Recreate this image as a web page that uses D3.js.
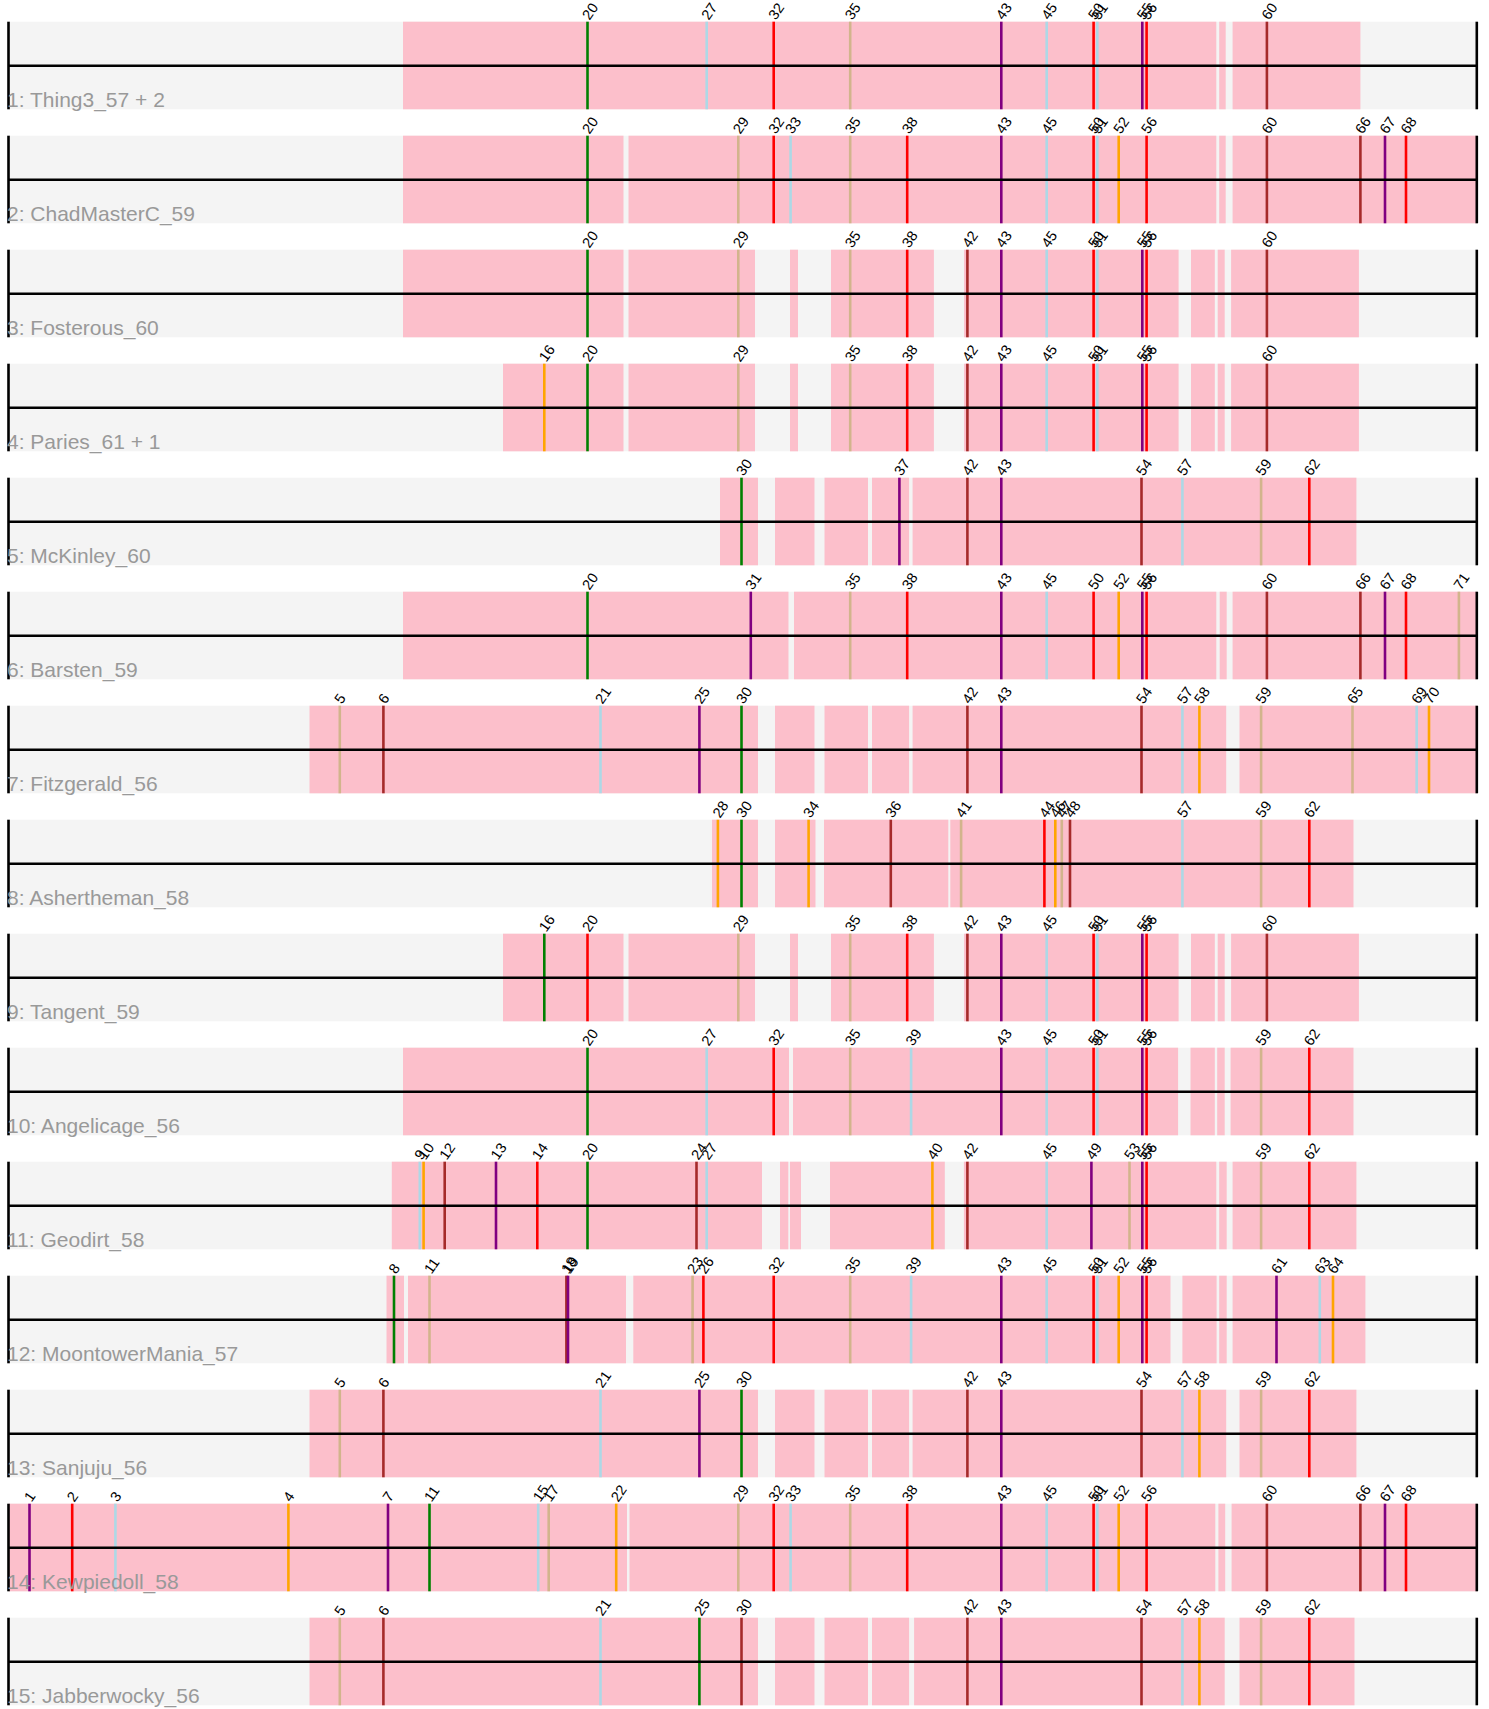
<!DOCTYPE html>
<html lang="en">
<head>
<meta charset="UTF-8">
<title>Variant tracks</title>
<script src="https://cdn.jsdelivr.net/npm/d3@7"></script>
<style>
    body { margin: 0; background: #fff; }
    svg { display: block; }
    .row-label { font-family: "Liberation Sans", Arial, sans-serif; font-size: 21px; fill: #999; }
    .site-label { font-family: "Liberation Sans", Arial, sans-serif; font-size: 14.5px; fill: #000; }
</style>
</head>
<body>
<div id="chart"></div>
<script>
// track names, top to bottom
const rowNames = [
    "1: Thing3_57 + 2", "2: ChadMasterC_59", "3: Fosterous_60", "4: Paries_61 + 1",
    "5: McKinley_60", "6: Barsten_59", "7: Fitzgerald_56", "8: Ashertheman_58",
    "9: Tangent_59", "10: Angelicage_56", "11: Geodirt_58", "12: MoontowerMania_57",
    "13: Sanjuju_56", "14: Kewpiedoll_58", "15: Jabberwocky_56"
];

// alignment position of each numbered site (site 1 .. 71)
const sitePos = [
    21, 63.7, 106.9, 279.9, 331.3, 374.9, 379.5, 385.5, 411.3, 415.1,
    421, 436.2, 487.5, 528.8, 529.7, 535.8, 540.2, 557.9, 559.5, 579,
    592, 607.7, 684.1, 688, 690.9, 694.9, 698.2, 709.4, 729.8, 733,
    742.3, 765.2, 782.1, 800.1, 841.7, 882.3, 890.9, 898.7, 902.6, 923.9,
    952.6, 958.9, 992.8, 1035.9, 1038.2, 1046.8, 1053.3, 1061.5, 1082.9, 1085.1,
    1088.8, 1110.2, 1121, 1133, 1133.8, 1138.1, 1173.9, 1190.9, 1252.6, 1258.4,
    1268, 1300.8, 1311.3, 1324.5, 1344, 1351.9, 1376.5, 1397.5, 1408.2, 1420.5,
    1450.4
];
const alignLength = 1468.3;

// sites present in each track
const rowSites = [
    [20, 27, 32, 35, 43, 45, 50, 51, 55, 56, 60],
    [20, 29, 32, 33, 35, 38, 43, 45, 50, 51, 52, 56, 60, 66, 67, 68],
    [20, 29, 35, 38, 42, 43, 45, 50, 51, 55, 56, 60],
    [16, 20, 29, 35, 38, 42, 43, 45, 50, 51, 55, 56, 60],
    [30, 37, 42, 43, 54, 57, 59, 62],
    [20, 31, 35, 38, 43, 45, 50, 52, 55, 56, 60, 66, 67, 68, 71],
    [5, 6, 21, 25, 30, 42, 43, 54, 57, 58, 59, 65, 69, 70],
    [28, 30, 34, 36, 41, 44, 46, 47, 48, 57, 59, 62],
    [16, 20, 29, 35, 38, 42, 43, 45, 50, 51, 55, 56, 60],
    [20, 27, 32, 35, 39, 43, 45, 50, 51, 55, 56, 59, 62],
    [9, 10, 12, 13, 14, 20, 24, 27, 40, 42, 45, 49, 53, 55, 56, 59, 62],
    [8, 11, 18, 19, 23, 26, 32, 35, 39, 43, 45, 50, 51, 52, 55, 56, 61, 63, 64],
    [5, 6, 21, 25, 30, 42, 43, 54, 57, 58, 59, 62],
    [1, 2, 3, 4, 7, 11, 15, 17, 22, 29, 32, 33, 35, 38, 43, 45, 50, 51, 52, 56, 60, 66, 67, 68],
    [5, 6, 21, 25, 30, 42, 43, 54, 57, 58, 59, 62]
];

// change class of each site mark, same order as rowSites
const rowKinds = [
    ["key", "c", "a", "t", "g", "c", "a", "c", "g", "a", "x"],
    ["key", "t", "a", "c", "t", "a", "g", "c", "a", "c", "o", "a", "x", "x", "g", "a"],
    ["key", "t", "t", "a", "x", "g", "c", "a", "c", "g", "a", "x"],
    ["o", "key", "t", "t", "a", "x", "g", "c", "a", "c", "g", "a", "x"],
    ["key", "g", "x", "g", "x", "c", "t", "a"],
    ["key", "g", "t", "a", "g", "c", "a", "o", "g", "a", "x", "x", "g", "a", "t"],
    ["t", "x", "c", "g", "key", "x", "g", "x", "c", "o", "t", "t", "c", "o"],
    ["o", "key", "o", "x", "t", "a", "o", "t", "x", "c", "t", "a"],
    ["key", "a", "t", "t", "a", "x", "g", "c", "a", "c", "g", "a", "x"],
    ["key", "c", "a", "t", "c", "g", "c", "a", "c", "g", "a", "t", "a"],
    ["c", "o", "x", "g", "a", "key", "x", "c", "o", "x", "c", "g", "t", "g", "a", "t", "a"],
    ["key", "t", "x", "g", "t", "a", "a", "t", "c", "g", "c", "a", "c", "o", "g", "a", "g", "c", "o"],
    ["t", "x", "c", "g", "key", "x", "g", "x", "c", "o", "t", "a"],
    ["g", "a", "c", "o", "g", "key", "c", "t", "o", "t", "a", "c", "t", "a", "g", "c", "a", "c", "o", "a", "x", "x", "g", "a"],
    ["t", "x", "c", "key", "x", "x", "g", "x", "c", "o", "t", "a"]
];

// covered (pink) stretches of each track, [start, end] in alignment positions
const segA = [[620, 746.5], [781.5, 789.5], [822.5, 925.4], [955.6, 1170.1], [1182.5, 1206.3], [1209.2, 1216.2], [1222.6, 1350.4]];
const segB = [[766.5, 806], [816, 859.5], [863.5, 900.6]];
const rowCover = [
    [[394.5, 1207.8], [1210.7, 1217.2], [1224.1, 1351.9]],
    [[394.5, 615], [620, 1207.8], [1210.7, 1217.2], [1224.1, 1468.3]],
    [[394.5, 615]].concat(segA),
    [[494.5, 615]].concat(segA),
    [[711.5, 749.5]].concat(segB, [[904.1, 1347.9]]),
    [[394.5, 780], [785.5, 1207.8], [1211.2, 1218.2], [1224.1, 1468.3]],
    [[301, 749.5]].concat(segB, [[904.1, 1217.7], [1231, 1468.3]]),
    [[703.5, 749.5], [766.5, 807], [815.5, 939.8], [941.8, 1345]],
    [[494.5, 615]].concat(segA),
    [[394.5, 780.5], [784.5, 1169.6], [1182, 1206.3], [1208.7, 1216.2], [1222.1, 1345]],
    [[383.3, 753.5], [771.5, 779.8], [781.5, 792.5], [821.5, 936.3], [955.4, 1207.8], [1210.7, 1218.2], [1224.1, 1347.9]],
    [[378, 395.5], [399.5, 617.5], [624.8, 1162], [1173.9, 1208.1], [1210.7, 1218.2], [1224.1, 1356.9]],
    [[301, 749.5]].concat(segB, [[904.1, 1217.7], [1231, 1347.9]]),
    [[0, 618.5], [621, 1206.8], [1209.9, 1216.7], [1223.1, 1468.3]],
    [[301, 749.5]].concat(segB, [[905.6, 1216.2], [1231, 1346]])
];

const width = 1489, height = 1709;

const svg = d3.select("#chart").append("svg")
    .attr("width", width)
    .attr("height", height);

const x = d3.scaleLinear().domain([0, alignLength]).range([8.5, 1476.8]);
const y = d3.scaleBand().domain(d3.range(rowNames.length)).range([0, 1710]);

const kindColour = d3.scaleOrdinal()
    .domain(["key", "a", "c", "g", "t", "x", "o"])
    .range(["#008000", "#ff0000", "#add8e6", "#800080", "#d2b48c", "#a52a2a", "#ffa500"]);

const bandTop = 21.7, bandBottom = 109.3, lineY = 65.7;

const rows = svg.selectAll("g.row")
    .data(rowNames)
    .enter()
    .append("g")
    .attr("class", "row")
    .attr("transform", (d, i) => `translate(0, ${y(i)})`);

// grey background band
rows.append("rect")
    .attr("x", x(0))
    .attr("y", bandTop)
    .attr("width", x(alignLength) - x(0))
    .attr("height", bandBottom - bandTop)
    .attr("fill", "#f4f4f4");

// covered stretches
rows.each(function (d, i) {
    d3.select(this).selectAll("rect.cover")
        .data(rowCover[i])
        .enter()
        .append("rect")
        .attr("class", "cover")
        .attr("x", s => x(s[0]))
        .attr("y", bandTop)
        .attr("width", s => x(s[1]) - x(s[0]))
        .attr("height", bandBottom - bandTop)
        .attr("fill", "#fcbfcb");
});

// site marks and their numbers
rows.each(function (d, i) {
    const g = d3.select(this);
    const marks = rowSites[i].map((s, k) => ({ site: s, kind: rowKinds[i][k] }));

    g.selectAll("line.site")
        .data(marks)
        .enter()
        .append("line")
        .attr("class", "site")
        .attr("x1", m => x(sitePos[m.site - 1]))
        .attr("x2", m => x(sitePos[m.site - 1]))
        .attr("y1", bandTop)
        .attr("y2", bandBottom)
        .attr("stroke", m => kindColour(m.kind))
        .attr("stroke-width", 2.6);

    g.selectAll("text.site-label")
        .data(marks)
        .enter()
        .append("text")
        .attr("class", "site-label")
        .attr("transform", m => `translate(${x(sitePos[m.site - 1]) + 2}, ${bandTop - 1}) rotate(-55)`)
        .text(m => m.site);
});

// track axis line and end bars
rows.append("line")
    .attr("x1", x(0)).attr("x2", x(alignLength))
    .attr("y1", lineY).attr("y2", lineY)
    .attr("stroke", "#000")
    .attr("stroke-width", 2.6);

rows.selectAll("line.end")
    .data([0, alignLength])
    .enter()
    .append("line")
    .attr("class", "end")
    .attr("x1", d => x(d)).attr("x2", d => x(d))
    .attr("y1", bandTop).attr("y2", bandBottom)
    .attr("stroke", "#000")
    .attr("stroke-width", 2.6);

rows.append("text")
    .attr("class", "row-label")
    .attr("x", 7)
    .attr("y", lineY + 41.5)
    .text(d => d);
</script>
</body>
</html>
